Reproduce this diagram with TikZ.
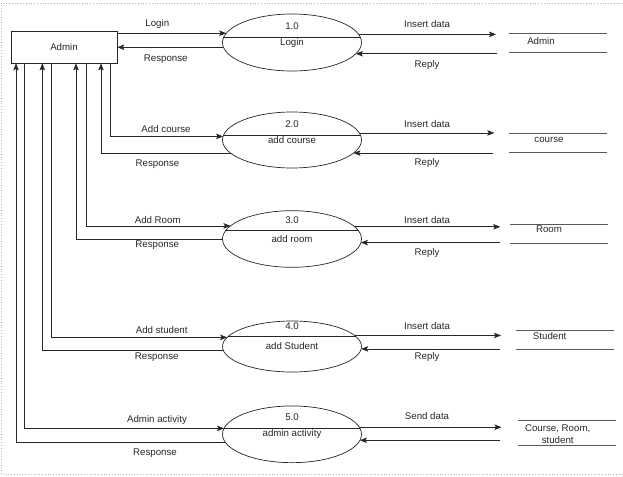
\documentclass[tikz,border=0pt]{standalone}
\usepackage{fontspec}
\setmainfont{Liberation Sans}
\usetikzlibrary{arrows.meta,shapes.geometric}

\begin{document}
\begin{tikzpicture}[x=1pt,y=-1pt,
    font=\fontsize{9.7}{12}\selectfont, text=black!85,
    flow/.style={draw=black!85, line width=0.7pt, -{Stealth[length=7pt,width=5.5pt,inset=1.5pt]}},
    proc/.style={draw=black!85, line width=0.7pt, ellipse, minimum width=139pt, inner sep=0pt, outer sep=0pt},
    store/.style={minimum width=98pt, inner sep=0pt, outer sep=0pt},
    storeline/.style={draw=black!65, line width=1pt},
    lbl/.style={inner sep=0pt}]
  \useasboundingbox (0,0) rectangle (623,476);
  \draw[black!30, dotted, line width=0.8pt] (623,3) -- (1,3) -- (1,474) -- (623,474);

  \node[draw=black!85, line width=0.7pt, minimum width=106pt, minimum height=32pt] (admin) at (64,47) {Admin};

  \node[proc, minimum height=57pt] (p1) at (292,42.5) {Login};
  \node[proc, minimum height=56pt] (p2) at (292,140) {add course};
  \node[proc, minimum height=56.6pt] (p3) at (292,239) {add room};
  \node[proc, minimum height=51pt] (p4) at (292,346.5) {add Student};
  \node[proc, minimum height=56.7pt] (p5) at (292,434.3) {admin activity};
  \node (n1) at (292,25.7) {1.0};
  \node (n2) at (292,123.7) {2.0};
  \node (n3) at (292,220) {3.0};
  \node (n4) at (292,326) {4.0};
  \node (n5) at (292,417.3) {5.0};
  \draw[black!85, line width=0.7pt] (p1.176) -- (p1.4) (p2.176) -- (p2.4) (p3.173) -- (p3.7)
    (p4.171) -- (p4.9) (p5.175) -- (p5.5);

  \node[store, minimum height=19pt] (s1) at (558.25,43.5) {};
  \node[store, minimum height=18.7pt] (s2) at (558.25,142.65) {};
  \node[store, minimum height=18.3pt] (s3) at (559.25,233.85) {};
  \node[store, minimum height=18.6pt] (s4) at (564.5,340) {};
  \node[store, minimum height=25.4pt] (s5) at (566.5,433) {};
  \foreach \s in {s1,s2,s3,s4,s5}
    \draw[storeline] (\s.north west) -- (\s.north east) (\s.south west) -- (\s.south east);
  \node (t1) at (541,40.7) {Admin};
  \node (t2) at (549,140) {course};
  \node (t3) at (549,229.7) {Room};
  \node (t4) at (549.7,335.7) {Student};
  \node[align=center] (t5) at (557.7,434.3) {Course, Room,\\student};

  % admin <-> processes
  \draw[flow] (admin.east |- p1.172) -- (p1.172);
  \draw[flow] (p1.184) -- (p1.184 -| admin.east);
  \draw[flow] ([xshift=46pt]admin.south) |- (p2.177);
  \draw[flow] (p2.192) -| ([xshift=37pt]admin.south);
  \draw[flow] ([xshift=22.7pt]admin.south) |- (p3.168);
  \draw[flow] (p3.west) -| ([xshift=12pt]admin.south);
  \draw[flow] ([xshift=-13pt]admin.south) |- (p4.172);
  \draw[flow] (p4.183) -| ([xshift=-21.7pt]admin.south);
  \draw[flow] ([xshift=-40pt]admin.south) |- (p5.175);
  \draw[flow] (p5.187) -| ([xshift=-48pt]admin.south);

  % processes <-> stores
  \draw[flow, shorten >=13.25pt] (p1.7) -- (p1.7 -| s1.west);
  \draw[flow, shorten <=12.5pt] (p1.350 -| s1.west) -- (p1.350);
  \draw[flow, shorten >=15pt] (p2.6) -- (p2.6 -| s2.west);
  \draw[flow, shorten <=16.5pt] (p2.348 -| s2.west) -- (p2.348);
  \draw[flow, shorten >=10pt] (p3.11) -- (p3.11 -| s3.west);
  \draw[flow, shorten <=10pt] (p3.357 -| s3.west) -- (p3.357);
  \draw[flow, shorten >=14.5pt] (p4.10) -- (p4.10 -| s4.west);
  \draw[flow, shorten <=15.5pt] (p4.358 -| s4.west) -- (p4.358);
  \draw[flow, shorten >=16pt] (p5.6) -- (p5.6 -| s5.west);
  \draw[flow, shorten <=17.5pt] (p5.355 -| s5.west) -- (p5.355);

  \node[lbl] (l1a) at (157.3,24.3) {Login};
  \node[lbl] (l1b) at (165.7,58.7) {Response};
  \node[lbl] (l2a) at (166,128.7) {Add course};
  \node[lbl] (l2b) at (157.5,164.3) {Response};
  \node[lbl] (l3a) at (157.7,220) {Add Room};
  \node[lbl] (l3b) at (157.3,244.7) {Response};
  \node[lbl] (l4a) at (161.7,330.3) {Add student};
  \node[lbl] (l4b) at (156.7,357.3) {Response};
  \node[lbl] (l5a) at (157,419.7) {Admin activity};
  \node[lbl] (l5b) at (155,453.3) {Response};

  \node[lbl] (r1a) at (427,24.3) {Insert data};
  \node[lbl] (r1b) at (427,65) {Reply};
  \node[lbl] (r2a) at (427,123.7) {Insert data};
  \node[lbl] (r2b) at (427,163) {Reply};
  \node[lbl] (r3a) at (427,220) {Insert data};
  \node[lbl] (r3b) at (427,252.7) {Reply};
  \node[lbl] (r4a) at (427,326) {Insert data};
  \node[lbl] (r4b) at (427,357.3) {Reply};
  \node[lbl] (r5a) at (427,416.3) {Send data};
\end{tikzpicture}
\end{document}
